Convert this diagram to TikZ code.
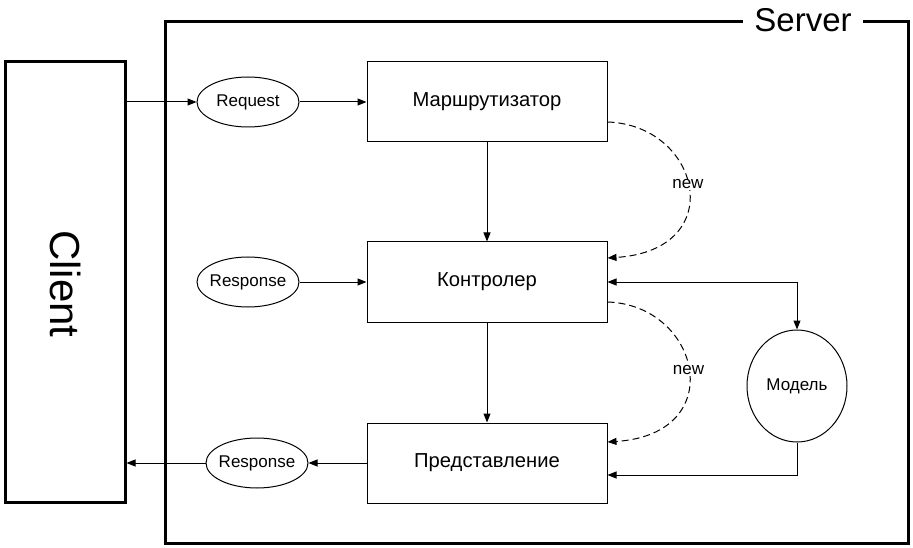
\documentclass[tikz,border=0pt]{standalone}
\usepackage{fontspec}
\setmainfont{Liberation Sans}
\usetikzlibrary{arrows.meta,shapes}

\tikzset{
    block/.style={draw,line width=1pt,minimum width=240pt,minimum height=80pt,inner sep=0pt,font=\fontsize{20.2}{24}\selectfont},
    msg/.style={draw,ellipse,line width=1pt,minimum width=102pt,minimum height=50pt,inner xsep=-10pt,inner ysep=0pt,font=\fontsize{17}{21}\selectfont},
    wire/.style={line width=1pt,->},
    newline/.style={line width=1pt,dash pattern=on 7pt off 4pt,->},
    newlabel/.style={fill=white,inner sep=1pt,font=\fontsize{17}{21}\selectfont}
}

\begin{document}
\begin{tikzpicture}[x=1pt,y=-1pt,>={Triangle[length=9pt,width=7pt]}]
            \useasboundingbox (0,0) rectangle (913,548);

            % server frame and client
            \node (server) at (536.5,282.5)[draw,line width=3pt,minimum width=743pt,minimum height=521pt,inner sep=0pt]{};
            \node (servername) at (803,20)[fill=white,inner xsep=11pt,inner ysep=4pt,font=\fontsize{33}{38}\selectfont]{Server};
            \node (client) at (65,282)[draw,line width=3pt,minimum width=120pt,minimum height=440pt,inner sep=0pt]{};
            \node (clientname) at (66,284)[rotate=-90,font=\fontsize{42}{48}\selectfont]{Client};

            % blocks
            \node (router) at (487,102)[block]{Маршрутизатор};
            \node (ctrl) at (487,282)[block]{Контролер};
            \node (view) at (487,463)[block]{Представление};
            \node (model) at (797,386)[draw,ellipse,line width=1pt,minimum width=100pt,minimum height=112pt,inner sep=0pt,font=\fontsize{17}{21}\selectfont]{Модель};

            % messages
            \node (request) at (248,102)[msg]{Request};
            \node (respin) at (248,282)[msg]{Response};
            \node (respout) at (257,463)[msg]{Response};

            \draw[wire] (client.east |- request) -- (request);
            \draw[wire] (request) -- (router);
            \draw[wire] (router) -- (ctrl);
            \draw[wire] (respin) -- (ctrl);
            \draw[wire] (ctrl) -- (view);
            \draw[wire] (view) -- (respout);
            \draw[wire] (respout) -- (client.east |- respout);
            \draw[wire,<->] (ctrl.east) -| (model.north);
            \draw[wire] (model.south) |- ([yshift=-12pt]view.east);

            % new
            \draw[newline] ([yshift=-20pt]router.east) .. controls +(93,3) and +(123,-8) .. node[newlabel,pos=.48]{new} ([yshift=24pt]ctrl.east);
            \draw[newline] ([yshift=-20pt]ctrl.east) .. controls +(93,3) and +(123,-8) .. node[newlabel,pos=.5]{new} ([yshift=21pt]view.east);
        \end{tikzpicture}
\end{document}
